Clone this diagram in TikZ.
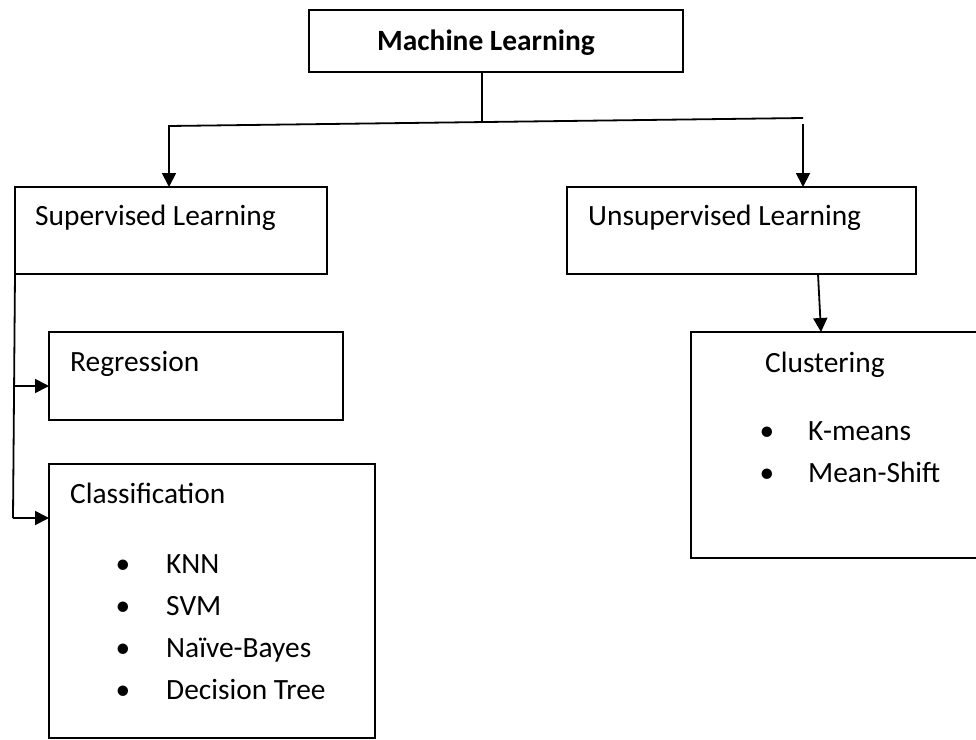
\documentclass[tikz,border=0pt]{standalone}
\usepackage{fontspec}
\setmainfont{Carlito}
\usetikzlibrary{arrows.meta}
\begin{document}
\begin{tikzpicture}[x=1pt,y=-1pt,
  box/.style={draw, line width=1.8pt, inner sep=0pt, outer sep=0pt},
  lbl/.style={anchor=base west, inner sep=0pt, font=\fontsize{29.4}{35}\selectfont},
  dot/.style={anchor=base, inner sep=0pt, font=\fontsize{29.4}{35}\selectfont},
  link/.style={line width=1.8pt},
  arr/.style={link, -{Triangle[length=14pt,width=14pt]}}]
\clip (0,0) rectangle (976,739);

% boxes
\node[box, minimum width=374pt, minimum height=62pt] (ml) at (496,41) {};
\node[box, minimum width=312pt, minimum height=87pt] (sup) at (171,230.5) {};
\node[box, minimum width=349pt, minimum height=87pt] (unsup) at (741.5,230.5) {};
\node[box, minimum width=294pt, minimum height=88pt] (reg) at (196,376) {};
\node[box, minimum width=326pt, minimum height=274pt] (cls) at (212,601) {};
\node[box, minimum width=304pt, minimum height=226pt] (clu) at (843,445) {};

% box texts
\node[lbl, font=\fontsize{29.4}{35}\selectfont\bfseries] (mlText) at (377,50) {Machine Learning};
\node[lbl] (supText) at (35,225) {Supervised Learning};
\node[lbl] (unsupText) at (588,225) {Unsupervised Learning};
\node[lbl] (regText) at (70,371) {Regression};
\node[lbl] (clsText) at (70,503) {Classification};
\node[lbl] (cluText) at (765,372) {Clustering};

% classification list
\node[dot] (b1) at (123,573) {•};
\node[lbl] (knn) at (166,573) {KNN};
\node[dot] (b2) at (123,615) {•};
\node[lbl] (svm) at (166,615) {SVM};
\node[dot] (b3) at (123,657) {•};
\node[lbl] (nb) at (166,657) {Naïve-Bayes};
\node[dot] (b4) at (123,699) {•};
\node[lbl] (dt) at (166,699) {Decision Tree};

% clustering list
\node[dot] (c1) at (767,440) {•};
\node[lbl] (km) at (808,440) {K-means};
\node[dot] (c2) at (767,482) {•};
\node[lbl] (ms) at (808,482) {Mean-Shift};

% junction points of the connectors
\coordinate (split) at (482,122);
\coordinate (jl) at (169,126);
\coordinate (jr) at (803,118);
\coordinate (jrDown) at (803,124);
\coordinate (regIn) at ([yshift=-10pt]reg.west);
\coordinate (clsIn) at ([yshift=-54pt]cls.north west);
\coordinate (spineEnd) at (13,518);

% top-level split
\draw[link] (ml.south -| split) -- (split);
\draw[arr] (jr) -- (jl) -- (jl |- sup.north);
\draw[arr] (jrDown) -- (jrDown |- unsup.north);

% unsupervised branch
\draw[arr] (unsup.south -| 818,0) -- (clu.north -| 821,0);

% supervised branch
\draw[link] (sup.south west) -- (spineEnd);
\draw[arr] (regIn -| 14,0) -- (regIn);
\draw[arr] (spineEnd) -- (clsIn);
\end{tikzpicture}
\end{document}
